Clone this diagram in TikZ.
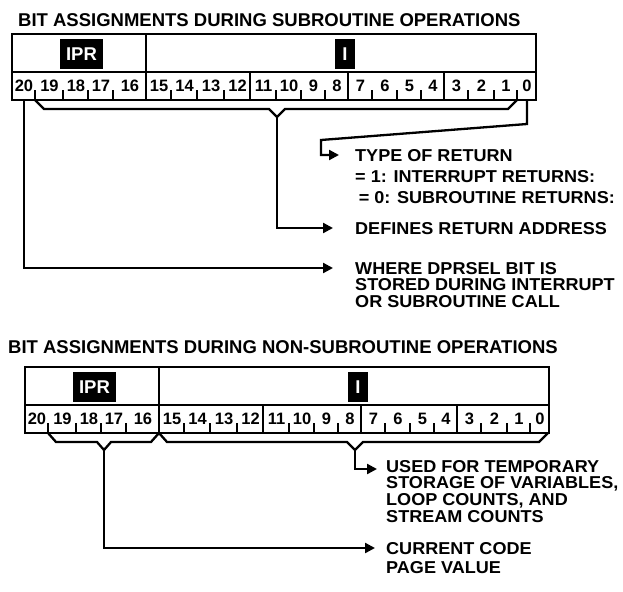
\documentclass[tikz,border=0pt]{standalone}
\usepackage{fontspec}
\setmainfont{Liberation Sans}
\newfontfamily\lblfont[FakeStretch=1.05]{Liberation Sans}
\usetikzlibrary{arrows.meta}
\newcommand\drawregister[1]{%
  \draw[reg] (12,34) rectangle (536,100);
  \draw[reg] (12,72) -- (536,72);
  \draw[reg] (146,34) -- (146,100);
  \foreach \x in {250,348,444} \draw[reg] (\x,72) -- (\x,100);
  \foreach \x in {35,63,88,113,171,197,224,276,301,325,372,397,421,468,494,517} \draw[reg] (\x,100) -- (\x,90);
  \foreach \n/\a/\b in {20/12/35,19/35/63,18/63/88,17/88/113,16/113/146,15/146/171,14/171/197,13/197/224,12/224/250,11/250/276,10/276/301,9/301/325,8/325/348,7/348/372,6/372/397,5/397/421,4/421/444,3/444/468,2/468/494,1/494/517,0/517/536}
    \node[bitnum] (#1b\n) at ({(\a+\b)/2+0.5},86) {\n};
  \node[blk, minimum width=43pt] (#1ipr) at (81.5,54) {IPR};
  \node[blk, minimum width=20pt] (#1i) at (345,54) {I};
}
\begin{document}
\begin{tikzpicture}[x=1pt,y=-1pt,
  reg/.style={line width=2.2pt},
  conn/.style={line width=2.3pt, line join=miter},
  arr/.style={conn,-{Triangle[length=10pt,width=10pt]}},
  ttl/.style={font=\bfseries\fontsize{18.5}{20}\selectfont, anchor=base west, inner sep=0pt},
  lbl/.style={font=\lblfont\bfseries\fontsize{17.2}{18}\selectfont, anchor=base west, inner sep=0pt, text height=12pt, text depth=0pt},
  bitnum/.style={font=\bfseries\fontsize{16.5}{16}\selectfont, inner sep=0pt},
  blk/.style={fill=black, text=white, font=\bfseries\fontsize{18.5}{20}\selectfont, inner sep=0pt, minimum height=30pt}
]
\useasboundingbox (0,0) rectangle (623,591);

% ---------- Upper register ----------
\node[ttl] (title1) at (18,26.6) {BIT ASSIGNMENTS DURING SUBROUTINE OPERATIONS};
\begin{scope}
  \drawregister{u}
\end{scope}
\coordinate (ub20) at (24,100);
\coordinate (ubrL) at (35,100);
\coordinate (ubrR) at (517,100);
\coordinate (ubrV) at (277,117);
\coordinate (ub0) at (527,100);
\draw[conn] (ubrL) -- (44,109) -- (269,109) -- (ubrV) -- (285,109) -- (508,109) -- (ubrR);

\node[lbl] (t1) at (355,161.1) {TYPE OF RETURN};
\node[lbl] (t2) at (355,182.1) {= 1: INTERRUPT RETURNS:};
\node[lbl] (t3) at (358.6,203.1) {= 0: SUBROUTINE RETURNS:};
\node[lbl] (t4) at (355,234.1) {DEFINES RETURN ADDRESS};
\node[lbl] (t5) at (355,274.1) {WHERE DPRSEL BIT IS};
\node[lbl] (t6) at (355,290.8) {STORED DURING INTERRUPT};
\node[lbl] (t7) at (355,307.5) {OR SUBROUTINE CALL};

\coordinate (a1) at (339,155);
\coordinate (a4) at (333,228);
\coordinate (a5) at (333,268);
\draw[arr] (ub0) -- (527,124) -- (321,140) -- (321,155) -- (a1);
\draw[arr] (ubrV) -- (277,228) -- (a4);
\draw[arr] (ub20) -- (24,268) -- (a5);

% ---------- Lower register ----------
\node[ttl] (title2) at (8,353.6) {BIT ASSIGNMENTS DURING NON-SUBROUTINE OPERATIONS};
\begin{scope}[shift={(13,332.7)}]
  \drawregister{l}
\end{scope}
\coordinate (lbrAL) at (48,433);
\coordinate (lbrAV) at (104,450);
\coordinate (ldiv) at (159,433);
\coordinate (lbrBV) at (355,450);
\coordinate (lbrBR) at (548,433);
\draw[conn] (lbrAL) -- (56,442) -- (97,442) -- (lbrAV) -- (111,442) -- (151,442) -- (ldiv);
\draw[conn] (ldiv) -- (167,442) -- (347,442) -- (lbrBV) -- (363,442) -- (539,442) -- (lbrBR);

\node[lbl] (s1) at (386,472.1) {USED FOR TEMPORARY};
\node[lbl] (s2) at (386,488.8) {STORAGE OF VARIABLES,};
\node[lbl] (s3) at (386,505.5) {LOOP COUNTS, AND};
\node[lbl] (s4) at (386,522.2) {STREAM COUNTS};
\node[lbl] (s5) at (386,554.1) {CURRENT CODE};
\node[lbl] (s6) at (386,573.1) {PAGE VALUE};

\coordinate (b1) at (377,469);
\coordinate (b2) at (375,548);
\draw[arr] (lbrBV) -- (355,469) -- (b1);
\draw[arr] (lbrAV) -- (104,548) -- (b2);
\end{tikzpicture}
\end{document}
